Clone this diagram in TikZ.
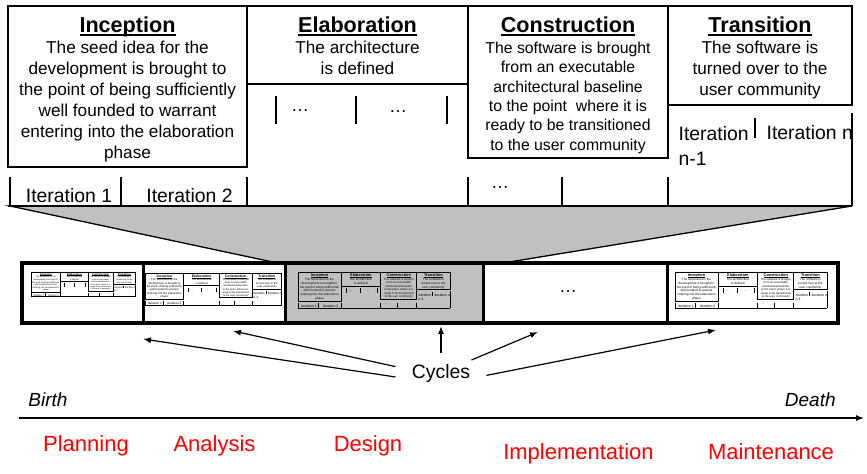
\documentclass[tikz,border=0pt]{standalone}
\usepackage{fontspec}
\setmainfont{Liberation Sans}
\usetikzlibrary{arrows.meta}
\definecolor{wedgegray}{HTML}{C0C0C0}
\definecolor{activityred}{HTML}{FF0000}

% bold title with a rule just under the baseline
\newcommand{\phul}[1]{\setbox0\hbox{#1}\rlap{\rule[-1.3pt]{\wd0}{0.85pt}}\box0}

% the four phases with their iterations (drawn at full size, reused small)
\newcommand{\phasechart}{%
  \draw (8,6) rectangle (247,167);
  \draw (247,6) rectangle (468,84);
  \draw (468,6) rectangle (668,158);
  \draw (668,6) rectangle (852,105);
  \draw (8,206) -- (852,206);
  \foreach \x in {10,121,247,468,562,668}
    \draw (\x,177) -- (\x,206);
  \foreach \x in {276,356,447}
    \draw (\x,96) -- (\x,124);
  \draw (755,118) -- (755,138);
  \draw (852,113) -- (852,206);
  \node[phtitle] (inc-t) at (127.5,33) {\phul{Inception}};
  \node[phtext] (inc-b) at (127.5,40.6)
    {The seed idea for the\\ development is brought to\\
     the point of being sufficiently\\ well founded to warrant\\
     entering into the elaboration\\ phase};
  \node[phtitle] (ela-t) at (357.5,33) {\phul{Elaboration}};
  \node[phtext] (ela-b) at (357.5,40.6) {The architecture\\ is defined};
  \node[phtitle] (con-t) at (568,33) {\phul{Construction}};
  \node[phsmall] (con-b) at (568,41.2)
    {The software is brought\\ from an executable\\
     architectural baseline\\ to the point\ \ where it is\\
     ready to be transitioned\\ to the user community};
  \node[phtitle] (tra-t) at (760,33) {\phul{Transition}};
  \node[phtext] (tra-b) at (760,40.6)
    {The software is\\ turned over to the\\ user community};
  \node[dotlabel] (ela-d1) at (300,112) {\dots};
  \node[dotlabel] (ela-d2) at (398,113) {\dots};
  \node[dotlabel] (con-d) at (500,189) {\dots};
  \node[iterlabel] (it1) at (69,203) {Iteration 1};
  \node[iterlabel] (it2) at (189.5,203) {Iteration 2};
  \node[iterlabel, anchor=north west, align=left] (itn1) at (678,125.7)
    {Iteration\\ n-1};
  \node[iterlabel, anchor=base west] (itn) at (766,140) {Iteration n};
}

\begin{document}
\begin{tikzpicture}[
    x=0.5pt, y=-0.5pt,
    phtitle/.style={font=\fontsize{10.8}{13}\selectfont\bfseries,
                    anchor=base, inner sep=0pt},
    phtext/.style={font=\fontsize{8.6}{10.5}\selectfont, align=center,
                   anchor=north, inner sep=0pt},
    phsmall/.style={phtext, font=\fontsize{7.9}{9.7}\selectfont},
    iterlabel/.style={font=\fontsize{9.7}{12.5}\selectfont, anchor=base,
                      inner sep=0pt},
    dotlabel/.style={font=\fontsize{9}{11}\selectfont, anchor=base,
                     inner sep=0pt},
    activity/.style={font=\fontsize{11}{13}\selectfont, text=activityred,
                     anchor=base, inner sep=0pt},
    endlabel/.style={font=\fontsize{9.5}{11}\selectfont\itshape,
                     inner sep=0pt},
    cyclelabel/.style={font=\fontsize{9.7}{12}\selectfont,
                       inner xsep=8pt, inner ysep=5.5pt},
    pointer/.style={-{Latex[length=4pt,width=3pt]}, line width=0.6pt},
    cellframe/.style={line width=1.75pt},
    celldivider/.style={line width=1.5pt},
  ]
  \useasboundingbox (0,0) rectangle (867,474);

  % zoom wedge from one cycle up to its phases
  \draw[fill=wedgegray, line width=0.65pt]
    (10,206) -- (852,206) -- (497,264) -- (282,264) -- cycle;

  \begin{scope}[line width=0.65pt]
    \phasechart
  \end{scope}

  % the cycles strip
  \fill[wedgegray] (285,263) rectangle (483,323);
  \draw[cellframe] (22,263) rectangle (838,323);
  \foreach \x in {143,285,483,667}
    \draw[celldivider] (\x,263) -- (\x,323);
  \node[dotlabel] (celldots) at (568,293) {\dots};

  \begin{scope}[shift={(31,272)}, scale=0.124, shift={(-8,-6)},
                transform shape, name prefix=cyca-, line width=0.3pt]
    \phasechart
  \end{scope}
  \begin{scope}[shift={(145,273)}, scale=0.162, shift={(-8,-6)},
                transform shape, name prefix=cycb-, line width=0.35pt]
    \phasechart
  \end{scope}
  \begin{scope}[shift={(298,272)}, scale=0.18, shift={(-8,-6)},
                transform shape, name prefix=cycc-, line width=0.4pt]
    \phasechart
  \end{scope}
  \begin{scope}[shift={(675,272)}, scale=0.18, shift={(-8,-6)},
                transform shape, name prefix=cyce-, line width=0.4pt]
    \phasechart
  \end{scope}

  % cycles pointers
  \node[cyclelabel] (cycles) at (441,373) {Cycles};
  \coordinate (tip1) at (143,339);
  \coordinate (tip2) at (233,331);
  \coordinate (tip3) at (441,326);
  \coordinate (tip4) at (538,332);
  \coordinate (tip5) at (716,330);
  \draw[pointer] (cycles.185) -- (tip1);
  \draw[pointer] (cycles.172) -- (tip2);
  \draw[pointer] (cycles.north) -- (tip3);
  \draw[pointer] ([shift={(-15,-13)}]cycles.east) -- (tip4);
  \draw[pointer] (cycles.-3) -- (tip5);

  % life line
  \node[endlabel, anchor=base west] (birth) at (28,407) {Birth};
  \node[endlabel, anchor=base east] (death) at (836,407) {Death};
  \coordinate (lifestart) at (19,418);
  \coordinate (lifeend) at (864,418);
  \draw[pointer] (lifestart) -- (lifeend);

  \node[activity] (planning) at (86,452) {Planning};
  \node[activity] (analysis) at (214.5,452) {Analysis};
  \node[activity] (design) at (368,452) {Design};
  \node[activity] (implementation) at (578.5,460) {Implementation};
  \node[activity] (maintenance) at (771,460) {Maintenance};
\end{tikzpicture}
\end{document}
